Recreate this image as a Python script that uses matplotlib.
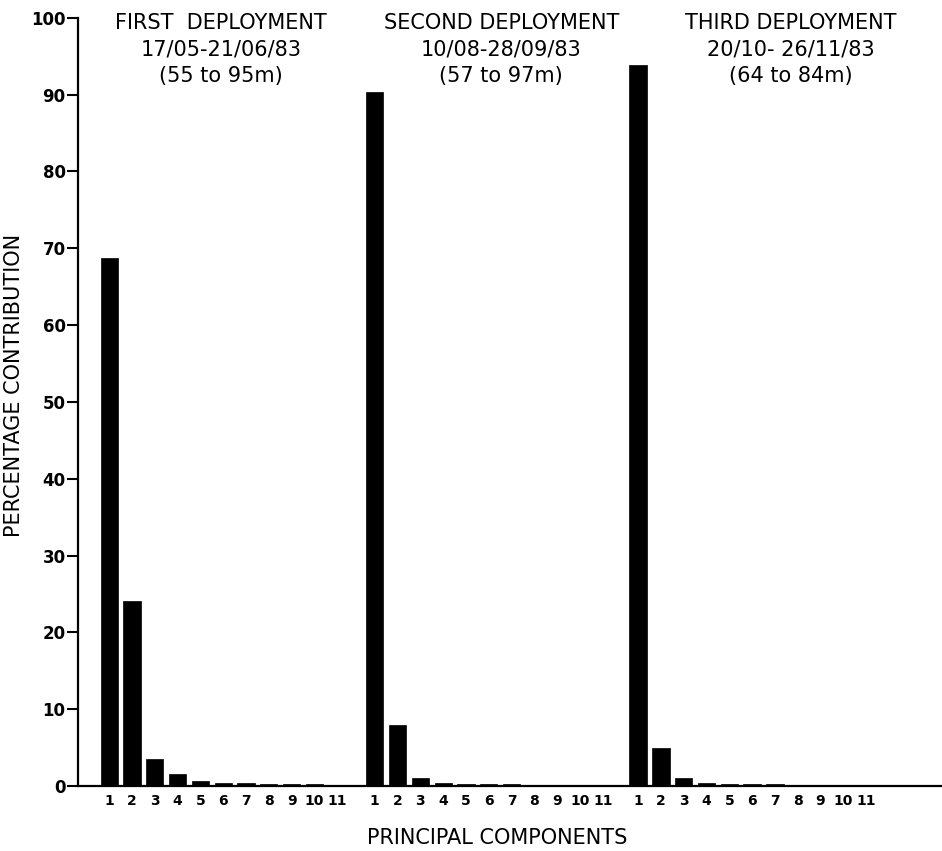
import matplotlib
matplotlib.use("Agg")
import matplotlib.pyplot as plt
import numpy as np

# Principal component contributions (%) for each deployment
components = list(range(1, 12))
tick_labels = [str(c) for c in components]

first_deployment = [68.7, 24.1, 3.5, 1.5, 0.6, 0.4, 0.35, 0.25, 0.2, 0.2, 0.15]
second_deployment = [90.3, 7.9, 1.1, 0.45, 0.3, 0.2, 0.2, 0.15, 0.15, 0.15, 0.1]
third_deployment = [93.9, 5.0, 1.1, 0.45, 0.3, 0.2, 0.2, 0.15, 0.15, 0.15, 0.1]

titles = [
    "FIRST  DEPLOYMENT\n17/05-21/06/83\n(55 to 95m)",
    "SECOND DEPLOYMENT\n10/08-28/09/83\n(57 to 97m)",
    "THIRD DEPLOYMENT\n20/10- 26/11/83\n(64 to 84m)",
]

series = [first_deployment, second_deployment, third_deployment]
group_offsets = [0.0, 11.65, 23.2]
title_x = [5.9, 18.2, 30.9]

plt.rcParams["font.family"] = ["DejaVu Sans"]

fig = plt.figure(figsize=(9.42, 8.51), dpi=100)
ax = fig.add_axes([0.083, 0.0764, 0.917, 0.9026])

xticks = []
xlabels = []
for vals, off in zip(series, group_offsets):
    x = np.array(components, dtype=float) + off
    ax.bar(x, vals, width=0.76, color="black", edgecolor="black", linewidth=0.5)
    xticks.extend(x)
    xlabels.extend(tick_labels)

for tx, t in zip(title_x, titles):
    ax.text(tx, 100.6, t, ha="center", va="top", fontsize=15,
            linespacing=1.4, color="black", clip_on=False)

ax.set_xlim(-0.36, 37.53)
ax.set_ylim(0, 100)
ax.set_yticks(np.arange(0, 101, 10))
ax.set_xticks(xticks)
ax.set_xticklabels(xlabels, fontsize=10, fontweight="bold")
ax.tick_params(axis="x", length=0, pad=6)
ax.tick_params(axis="y", direction="out", length=8, width=1.5,
               labelsize=12, pad=1)
for lab in ax.get_yticklabels():
    lab.set_fontweight("bold")

for side in ("top", "right"):
    ax.spines[side].set_visible(False)
for side in ("left", "bottom"):
    ax.spines[side].set_linewidth(1.6)

ax.set_ylabel("PERCENTAGE CONTRIBUTION", fontsize=15)
ax.yaxis.set_label_coords(-0.0625, 0.522)
fig.text(0.528, 0.003, "PRINCIPAL COMPONENTS", ha="center", va="bottom",
         fontsize=15)

fig.savefig("out.png", dpi=100, facecolor="white")
